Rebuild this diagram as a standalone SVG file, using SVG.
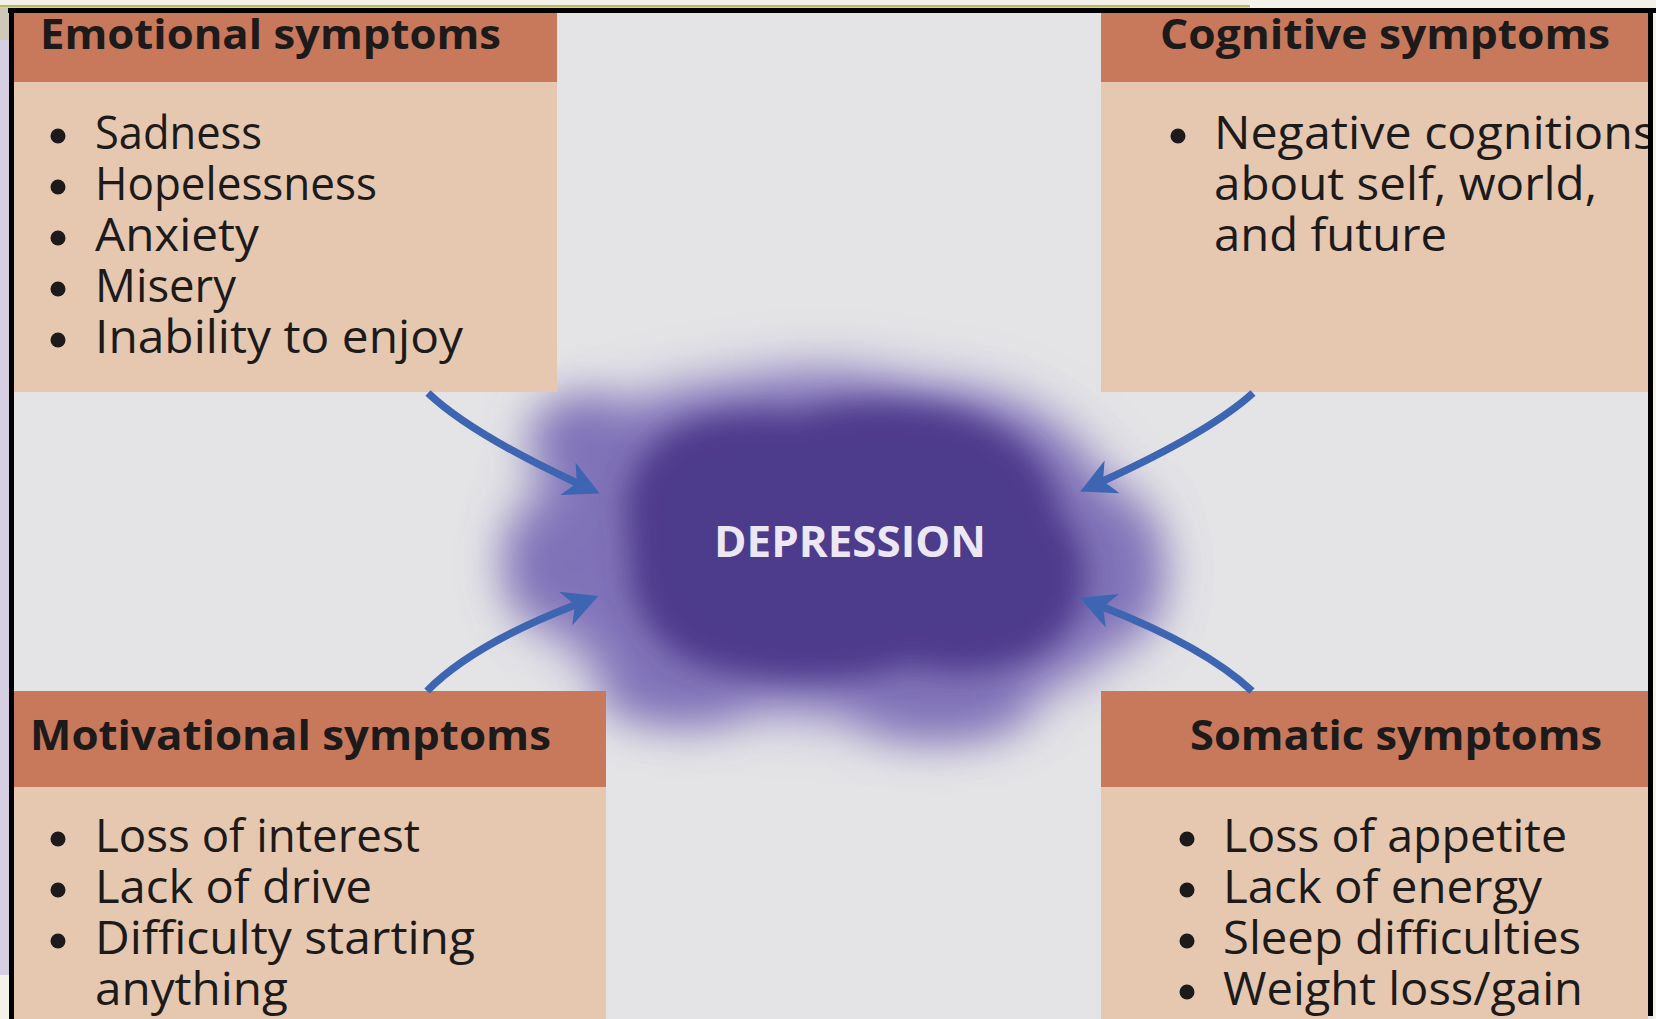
<svg xmlns="http://www.w3.org/2000/svg" width="1656" height="1019" viewBox="0 0 1656 1019">
  <defs>
    <style>
      .hdr { fill: #c8785b; }
      .body { fill: #e6c8b0; }
      .htxt { font-family: "Open Sans", "Noto Sans", sans-serif; font-weight: 700; font-size: 41px; fill: #1c1a1a; }
      .btxt { font-family: "Open Sans", "Noto Sans", sans-serif; font-weight: 400; font-size: 45px; fill: #1c1a1a; }
      .dot { fill: #1c1a1a; }
      .arrow { fill: none; stroke: #3d65b2; stroke-width: 7.5; stroke-linecap: butt; }
      .ctxt { font-family: "Open Sans", "Noto Sans", sans-serif; font-weight: 700; font-size: 43px; fill: #ece7f3; }
      .lobe { fill: #8072b8; }
    </style>
    <marker id="ah" markerUnits="userSpaceOnUse" viewBox="-38 -22 40 44" refX="-25" refY="0" markerWidth="40" markerHeight="44" orient="auto">
      <path d="M0,0 L-35,-18 L-25,0 L-35,18 Z" fill="#3d65b2"/>
    </marker>
    <filter id="blurOuter" x="-40%" y="-40%" width="180%" height="180%">
      <feGaussianBlur stdDeviation="30"/>
    </filter>
    <filter id="blurHalo" x="-30%" y="-30%" width="160%" height="160%">
      <feGaussianBlur stdDeviation="23"/>
    </filter>
    <filter id="blurCore" x="-30%" y="-30%" width="160%" height="160%">
      <feGaussianBlur stdDeviation="15"/>
    </filter>
  </defs>

  <!-- background -->
  <rect x="0" y="0" width="1656" height="1019" fill="#e4e4e6"/>

  <!-- central cloud -->
  <g id="depression">
    <g filter="url(#blurOuter)" opacity="0.7">
      <path fill="#9a8dc8" d="M530,560 C520,500 550,440 600,420 C640,392 700,386 740,381 C800,366 870,370 920,386 C990,386 1060,416 1090,462 C1130,496 1160,545 1150,592 C1140,642 1095,672 1045,692 C995,716 940,722 900,722 C840,720 780,712 720,708 C660,706 600,686 578,654 C545,624 530,600 530,560 Z"/>
    </g>
    <g filter="url(#blurHalo)">
      <path class="lobe" d="M545,560 C535,505 565,450 612,428 C645,400 700,394 740,389 C800,376 870,378 920,394 C985,392 1055,420 1082,466 C1120,498 1140,545 1133,590 C1124,636 1088,664 1040,684 C992,706 940,708 900,708 C840,708 780,700 722,696 C664,696 610,676 588,646 C556,618 545,596 545,560 Z"/>
      <ellipse class="lobe" cx="585" cy="440" rx="55" ry="45"/>
      <ellipse class="lobe" cx="680" cy="690" rx="80" ry="35"/>
      <ellipse class="lobe" cx="940" cy="705" rx="90" ry="35"/>
      <ellipse class="lobe" cx="1120" cy="570" rx="40" ry="70"/>
      <ellipse class="lobe" cx="545" cy="565" rx="40" ry="60"/>
    </g>
    <path filter="url(#blurCore)" fill="#4e3b8b" d="M650,450 C680,410 760,410 800,415 C850,395 940,400 980,420 C1030,440 1055,480 1060,515 C1090,545 1095,600 1060,635 C1030,670 960,680 910,665 C860,685 760,685 700,665 C645,645 625,590 630,545 C620,500 630,470 650,450 Z"/>
    <text class="ctxt" x="714" y="557" textLength="272" lengthAdjust="spacingAndGlyphs">DEPRESSION</text>
  </g>

  <!-- Emotional -->
  <g id="emotional">
    <rect class="body" x="14" y="82" width="543" height="310"/>
    <rect class="hdr" x="14" y="13" width="543" height="69"/>
    <text class="htxt" x="40" y="49" textLength="461" lengthAdjust="spacingAndGlyphs">Emotional symptoms</text>
    <circle class="dot" cx="58" cy="136" r="7.5"/>
    <circle class="dot" cx="58" cy="187" r="7.5"/>
    <circle class="dot" cx="58" cy="238" r="7.5"/>
    <circle class="dot" cx="58" cy="289" r="7.5"/>
    <circle class="dot" cx="58" cy="340" r="7.5"/>
    <text class="btxt" x="95" y="149" textLength="167" lengthAdjust="spacingAndGlyphs">Sadness</text>
    <text class="btxt" x="95" y="200" textLength="282" lengthAdjust="spacingAndGlyphs">Hopelessness</text>
    <text class="btxt" x="95" y="251" textLength="164" lengthAdjust="spacingAndGlyphs">Anxiety</text>
    <text class="btxt" x="95" y="302" textLength="141" lengthAdjust="spacingAndGlyphs">Misery</text>
    <text class="btxt" x="95" y="353" textLength="368" lengthAdjust="spacingAndGlyphs">Inability to enjoy</text>
  </g>

  <!-- Cognitive -->
  <g id="cognitive">
    <rect class="body" x="1101" y="82" width="547" height="310"/>
    <rect class="hdr" x="1101" y="13" width="547" height="69"/>
    <text class="htxt" x="1160" y="49" textLength="450" lengthAdjust="spacingAndGlyphs">Cognitive symptoms</text>
    <circle class="dot" cx="1178" cy="136" r="7.5"/>
    <text class="btxt" x="1214" y="149" textLength="442" lengthAdjust="spacingAndGlyphs">Negative cognitions</text>
    <text class="btxt" x="1214" y="200" textLength="383" lengthAdjust="spacingAndGlyphs">about self, world,</text>
    <text class="btxt" x="1214" y="251" textLength="233" lengthAdjust="spacingAndGlyphs">and future</text>
  </g>

  <!-- Motivational -->
  <g id="motivational">
    <rect class="body" x="14" y="787" width="592" height="232"/>
    <rect class="hdr" x="14" y="691" width="592" height="96"/>
    <text class="htxt" x="30" y="750" textLength="521" lengthAdjust="spacingAndGlyphs">Motivational symptoms</text>
    <circle class="dot" cx="58" cy="839" r="7.5"/>
    <circle class="dot" cx="58" cy="890" r="7.5"/>
    <circle class="dot" cx="58" cy="941" r="7.5"/>
    <text class="btxt" x="95" y="852" textLength="325" lengthAdjust="spacingAndGlyphs">Loss of interest</text>
    <text class="btxt" x="95" y="903" textLength="277" lengthAdjust="spacingAndGlyphs">Lack of drive</text>
    <text class="btxt" x="95" y="954" textLength="380" lengthAdjust="spacingAndGlyphs">Difficulty starting</text>
    <text class="btxt" x="95" y="1005" textLength="193" lengthAdjust="spacingAndGlyphs">anything</text>
  </g>

  <!-- Somatic -->
  <g id="somatic">
    <rect class="body" x="1101" y="787" width="547" height="232"/>
    <rect class="hdr" x="1101" y="691" width="547" height="96"/>
    <text class="htxt" x="1190" y="750" textLength="412" lengthAdjust="spacingAndGlyphs">Somatic symptoms</text>
    <circle class="dot" cx="1187" cy="839" r="7.5"/>
    <circle class="dot" cx="1187" cy="890" r="7.5"/>
    <circle class="dot" cx="1187" cy="941" r="7.5"/>
    <circle class="dot" cx="1187" cy="992" r="7.5"/>
    <text class="btxt" x="1223" y="852" textLength="344" lengthAdjust="spacingAndGlyphs">Loss of appetite</text>
    <text class="btxt" x="1223" y="903" textLength="319" lengthAdjust="spacingAndGlyphs">Lack of energy</text>
    <text class="btxt" x="1223" y="954" textLength="358" lengthAdjust="spacingAndGlyphs">Sleep difficulties</text>
    <text class="btxt" x="1223" y="1005" textLength="360" lengthAdjust="spacingAndGlyphs">Weight loss/gain</text>
  </g>

  <!-- connectors -->
  <g id="connectors">
    <path class="arrow" marker-end="url(#ah)" d="M428,393 Q470,433 577,483"/>
    <path class="arrow" marker-end="url(#ah)" d="M1253,393 Q1210,432 1103,481"/>
    <path class="arrow" marker-end="url(#ah)" d="M427,691 Q472,645 575,605"/>
    <path class="arrow" marker-end="url(#ah)" d="M1252,691 Q1205,647 1103,607"/>
  </g>

  <!-- slide frame -->
  <g id="frame">
    <rect x="0" y="0" width="1656" height="8" fill="#f4f2e8"/>
    <rect x="0" y="5" width="1250" height="2.5" fill="#b7ba5c"/>
    <rect x="0" y="8" width="9" height="1011" fill="#f4f2e8"/>
    <rect x="0" y="40" width="9" height="935" fill="#d6cfe4"/>
    <rect x="0" y="8" width="9" height="32" fill="#cfc8b8"/>
    <rect x="1653" y="8" width="3" height="1011" fill="#f4f2e8"/>
    <rect x="8" y="8" width="1648" height="5" fill="#000"/>
    <rect x="9" y="8" width="5" height="1011" fill="#000"/>
    <rect x="1648" y="8" width="5" height="1008" fill="#000"/>
  </g>
</svg>
